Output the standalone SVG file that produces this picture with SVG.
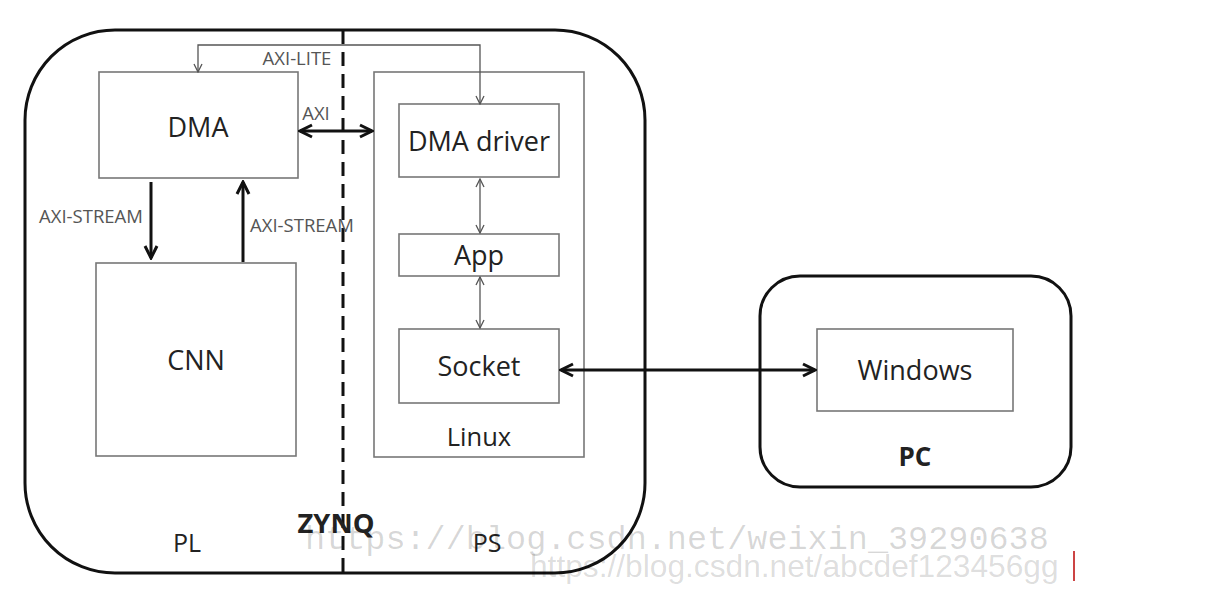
<svg xmlns="http://www.w3.org/2000/svg" width="1206" height="616" viewBox="0 0 1206 616">
<style>
.outer{fill:none;stroke:#111;stroke-width:3}
.box{fill:#fff;stroke:#777;stroke-width:1.6}
.t{font-family:"Open Sans","Noto Sans",sans-serif;fill:#222;text-anchor:middle}
.lbl{font-family:"Open Sans","Noto Sans",sans-serif;fill:#555;font-size:18.5px;text-anchor:middle}
.thin{fill:none;stroke:#555;stroke-width:1.3}
.thick{fill:none;stroke:#111;stroke-width:3}
</style>
<defs>
<marker id="ahs" viewBox="0 0 10 10" refX="9" refY="5" markerWidth="10" markerHeight="10" orient="auto-start-reverse" markerUnits="userSpaceOnUse">
<path d="M1,1 L9,5 L1,9" fill="none" stroke="#555" stroke-width="1.3"/>
</marker>
<marker id="ahk" viewBox="0 0 16 16" refX="14" refY="8" markerWidth="16" markerHeight="16" orient="auto-start-reverse" markerUnits="userSpaceOnUse">
<path d="M2,2 L14,8 L2,14" fill="none" stroke="#111" stroke-width="3"/>
</marker>
</defs>
<rect width="1206" height="616" fill="#fff"/>
<g id="zynq">
<rect class="outer" x="25" y="30" width="620" height="543" rx="90" ry="90"/>
<line x1="343" y1="30" x2="343" y2="573" stroke="#111" stroke-width="3" stroke-dasharray="14 8"/>
<text class="t" x="336" y="533" font-size="26" font-weight="bold" textLength="77" lengthAdjust="spacingAndGlyphs">ZYNQ</text>
<text class="t" x="187" y="552" font-size="25">PL</text>
<text class="t" x="487" y="552" font-size="25">PS</text>
</g>
<g id="dma">
<rect class="box" x="99" y="72" width="199" height="106"/>
<text class="t" x="198" y="137" font-size="27">DMA</text>
</g>
<g id="cnn">
<rect class="box" x="96" y="263" width="200" height="193"/>
<text class="t" x="196" y="370" font-size="27">CNN</text>
</g>
<g id="linux">
<rect class="box" x="374" y="72" width="210" height="385"/>
<text class="t" x="479" y="446" font-size="25.5">Linux</text>
</g>
<g id="dma-driver">
<rect class="box" x="399" y="104" width="160" height="73"/>
<text class="t" x="479" y="151" font-size="27">DMA driver</text>
</g>
<g id="app">
<rect class="box" x="399" y="234" width="160" height="42"/>
<text class="t" x="479" y="265" font-size="27">App</text>
</g>
<g id="socket">
<rect class="box" x="399" y="329" width="160" height="74"/>
<text class="t" x="479" y="376" font-size="27">Socket</text>
</g>
<g id="pc">
<rect class="outer" x="760" y="276" width="311" height="211" rx="40" ry="40"/>
<text class="t" x="915" y="466" font-size="26" font-weight="bold">PC</text>
</g>
<g id="windows">
<rect class="box" x="817" y="329" width="196" height="82"/>
<text class="t" x="915" y="380" font-size="27">Windows</text>
</g>
<g id="connectors">
<path class="thin" d="M198,72 L198,45 L480,45 L480,104" marker-start="url(#ahs)" marker-end="url(#ahs)"/>
<text class="lbl" x="297" y="65">AXI-LITE</text>
<line class="thick" x1="300" y1="131" x2="372" y2="131" marker-start="url(#ahk)" marker-end="url(#ahk)"/>
<text class="lbl" x="316" y="120">AXI</text>
<line class="thick" x1="151" y1="182" x2="151" y2="258" marker-end="url(#ahk)"/>
<text class="lbl" x="91" y="223">AXI-STREAM</text>
<line class="thick" x1="243" y1="262" x2="243" y2="182" marker-end="url(#ahk)"/>
<text class="lbl" x="302" y="232">AXI-STREAM</text>
<line class="thin" x1="480" y1="179" x2="480" y2="233" marker-start="url(#ahs)" marker-end="url(#ahs)"/>
<line class="thin" x1="480" y1="277" x2="480" y2="328" marker-start="url(#ahs)" marker-end="url(#ahs)"/>
<line class="thick" x1="561" y1="370" x2="815" y2="370" marker-start="url(#ahk)" marker-end="url(#ahk)"/>
</g>
<g id="watermark">
<text x="305" y="549" font-family="Liberation Mono, monospace" font-size="33.5" fill="#000" fill-opacity="0.16">https://blog.csdn.net/weixin_39290638</text>
<text x="530" y="577" font-family="Liberation Sans, sans-serif" font-size="31.7" fill="#000" fill-opacity="0.14">https://blog.csdn.net/abcdef123456gg</text>
<rect x="1073" y="551" width="2" height="30" fill="#c44"/>
</g>
</svg>
